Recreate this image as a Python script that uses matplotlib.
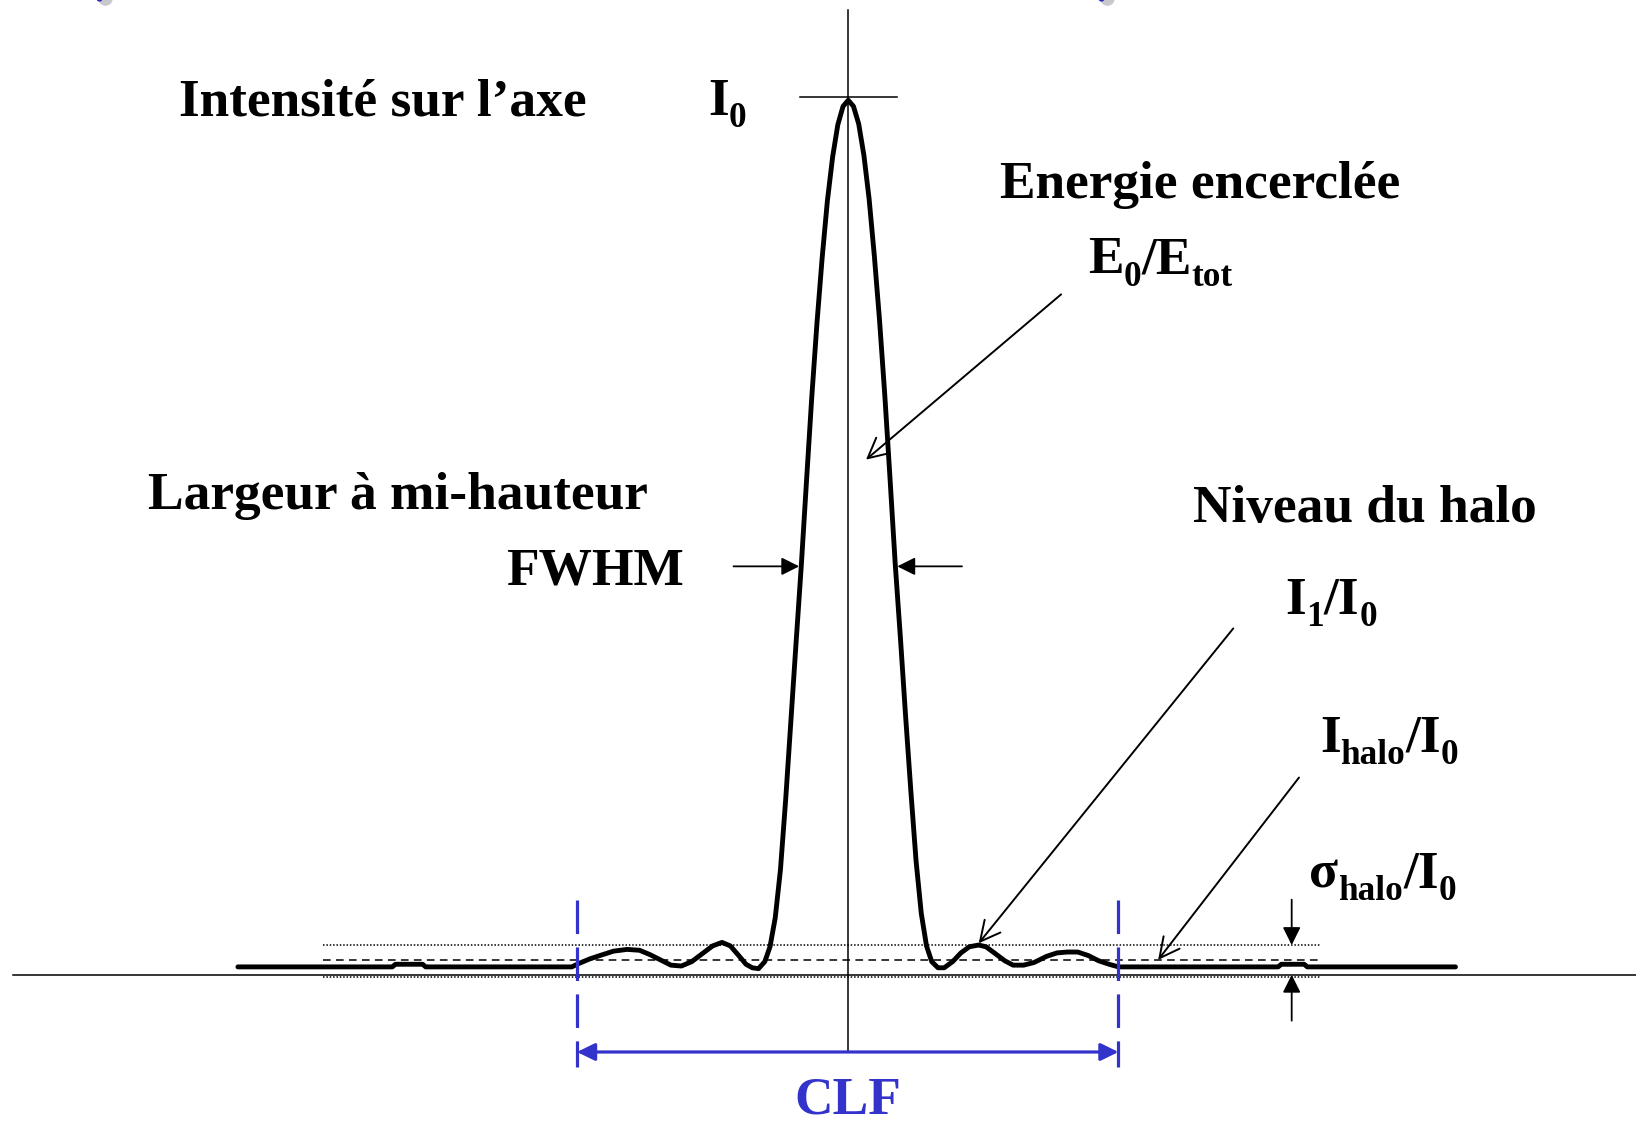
import numpy as np
import matplotlib.pyplot as plt

# Radial position across the image plane (0 = optical axis) and intensity I/I0
position = [-585, -437, -434, -408, -405, -265, -258, -248, -238, -225,
            -212, -200, -190, -180, -170, -160, -150, -140, -130, -121,
            -113, -105, -98, -92, -86, -80, -75, -70, -65, -60,
            -55, -50, -45, -40, -35, -30, -25, -20, -15, -10,
            -5, 0, 5, 10, 15, 20, 25, 30, 35, 40,
            45, 50, 55, 60, 65, 70, 75, 80, 86, 92,
            100, 108, 116, 125, 132, 140, 150, 158, 168, 178,
            190, 200, 210, 220, 230, 240, 250, 259, 412, 415,
            437, 440, 582]
intensity = [0.009, 0.009, 0.012, 0.012, 0.009, 0.009, 0.013, 0.018, 0.022, 0.027,
             0.029, 0.028, 0.023, 0.017, 0.011, 0.010, 0.015, 0.024, 0.033, 0.037,
             0.033, 0.022, 0.012, 0.008, 0.007, 0.015, 0.032, 0.065, 0.12, 0.20,
             0.29, 0.38, 0.468, 0.565, 0.66, 0.745, 0.82, 0.885, 0.935, 0.972,
             0.993, 1.0, 0.993, 0.973, 0.937, 0.887, 0.822, 0.748, 0.663, 0.568,
             0.47, 0.385, 0.295, 0.21, 0.13, 0.07, 0.033, 0.015, 0.008, 0.008,
             0.015, 0.025, 0.032, 0.034, 0.032, 0.025, 0.016, 0.011, 0.011, 0.014,
             0.021, 0.025, 0.026, 0.026, 0.022, 0.016, 0.012, 0.009, 0.009, 0.012,
             0.012, 0.009, 0.009]

# halo levels: mean, first-ring top, lower bound
halo_mean = 0.017
halo_top = 0.034
halo_low = -0.002
halo_span = (-503, 452)

# correction field limits and full width at half maximum
clf_edges = (-260, 259)
fwhm_edges = (-47, 47)
fwhm_level = 0.467

blue = '#3333CC'
fs = 38.4

plt.rcParams['font.family'] = ['Liberation Serif', 'DejaVu Serif']
plt.rcParams['font.weight'] = 'bold'

fig = plt.figure(figsize=(16.36, 11.23), dpi=100)
ax = fig.add_axes([0, 0, 1, 1])
ax.set_xlim(-813, 755)
ax.set_ylim(-0.1695, 1.1146)
ax.axis('off')
renderer = fig.canvas.get_renderer()


def arrow(x0, y0, x1, y1, style='-|>,head_length=0.4,head_width=0.2',
          color='black', lw=1.3, scale=27):
    ax.annotate('', xy=(x1, y1), xytext=(x0, y0),
                arrowprops=dict(arrowstyle=style, color=color, lw=lw,
                                shrinkA=0, shrinkB=0, mutation_scale=scale))


def label(x, y, parts):
    # write a label piece by piece, lowering and shrinking the subscripts
    for s, sub in parts:
        t = ax.text(x, y - 0.0140 if sub else y, s,
                    fontsize=fs * 0.66 if sub else fs, va='baseline')
        bb = t.get_window_extent(renderer)
        x = ax.transData.inverted().transform((bb.x1, bb.y0))[0]


# axes of the diagram
ax.plot([-801, 755], [0, 0], color='black', lw=1.1)
ax.plot([0, 0], [-0.0883, 1.103], color='black', lw=1.1)
ax.plot([-46, 47], [1.004, 1.004], color='black', lw=1.1)

# halo reference levels
ax.plot(halo_span, [halo_top, halo_top], color='black', lw=1.1, ls=(0, (1, 1.2)))
ax.plot(halo_span, [halo_mean, halo_mean], color='black', lw=1.1, ls=(0, (5, 3.5)))
ax.plot(halo_span, [halo_low, halo_low], color='black', lw=1.1, ls=(0, (1, 1.2)))

# intensity profile
ax.plot(position, intensity, color='black', lw=3.5,
        solid_joinstyle='round', solid_capstyle='round')

# correction field boundaries
for x in clf_edges:
    ax.plot([x, x], [0.0852, -0.1057], color=blue, lw=2.3, dashes=[10.5, 4.2])
arrow(clf_edges[0], -0.0883, clf_edges[1], -0.0883,
      style='<|-|>,head_length=0.45,head_width=0.22', color=blue, lw=2.3, scale=24)
ax.text(0, -0.159, 'CLF', color=blue, fontsize=fs, ha='center', va='baseline')

# FWHM markers
arrow(-110, fwhm_level, fwhm_edges[0], fwhm_level)
arrow(109, fwhm_level, fwhm_edges[1], fwhm_level)

# pointers to the annotated quantities
open_head = '->,head_length=0.55,head_width=0.28'
arrow(204, 0.778, 17, 0.589, style=open_head, lw=1.4, scale=26)
arrow(369, 0.396, 125, 0.036, style=open_head, lw=1.4, scale=26)
arrow(432, 0.2255, 297, halo_mean, style=open_head, lw=1.4, scale=26)

# halo fluctuation bounds
arrow(425, 0.0859, 425, halo_top)
arrow(425, -0.0525, 425, 0.0)

ax.text(-641, 0.983, 'Intensité sur l’axe', fontsize=fs, va='baseline')
label(-134, 0.983, [('I', False), ('0', True)])
ax.text(145, 0.888, 'Energie encerclée', fontsize=fs, va='baseline')
label(230, 0.802, [('E', False), ('0', True), ('/E', False), ('tot', True)])
ax.text(-671, 0.533, 'Largeur à mi-hauteur', fontsize=fs, va='baseline')
ax.text(-328, 0.446, 'FWHM', fontsize=fs, va='baseline')
ax.text(330, 0.518, 'Niveau du halo', fontsize=fs, va='baseline')
label(419, 0.413, [('I', False), ('1', True), ('/I', False), ('0', True)])
label(452, 0.255, [('I', False), ('halo', True), ('/I', False), ('0', True)])
label(442, 0.100, [('σ', False), ('halo', True), ('/I', False), ('0', True)])

# small marks along the top edge
ax.scatter([-712, 248], [1.117, 1.117], s=90, color='#c8c8cc')
ax.scatter([-718, 242], [1.117, 1.117], s=12, color='#2a2ab8')

fig.savefig('out.png', dpi=100)
